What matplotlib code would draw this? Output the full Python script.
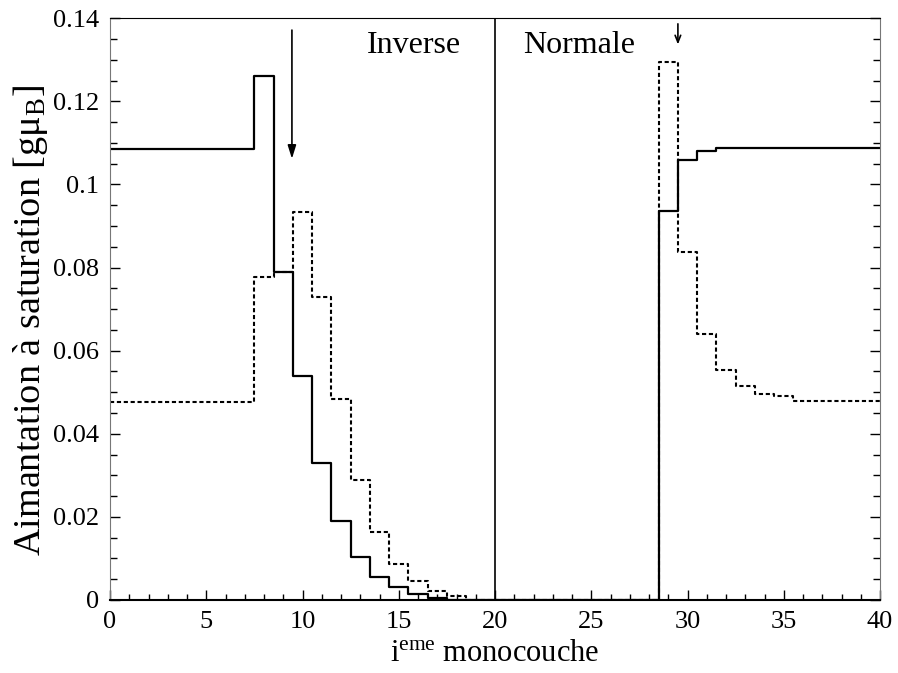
import matplotlib
matplotlib.use('Agg')
import matplotlib.pyplot as plt
from matplotlib.ticker import MultipleLocator, FormatStrFormatter

plt.rcParams['font.family'] = ['Liberation Serif', 'DejaVu Serif']
plt.rcParams['mathtext.fontset'] = 'custom'
plt.rcParams['mathtext.rm'] = 'Liberation Serif'
plt.rcParams['mathtext.it'] = 'Liberation Serif:italic'

# numero de la monocouche
couches = list(range(0, 41))

# aimantation (trait plein)
aim_plein = [0.1085, 0.1085, 0.1085, 0.1085, 0.1085, 0.1085, 0.1085, 0.1085,
             0.126, 0.079, 0.054, 0.033, 0.019, 0.0104, 0.0055, 0.0032,
             0.0015, 0.0004, 0.0, 0.0, 0.0, 0.0, 0.0, 0.0, 0.0, 0.0, 0.0, 0.0,
             0.0, 0.0935, 0.1058, 0.1080, 0.1087, 0.1087, 0.1087, 0.1087,
             0.1087, 0.1087, 0.1087, 0.1087, 0.1087]

# aimantation (pointilles)
aim_pointille = [0.0477, 0.0477, 0.0477, 0.0477, 0.0477, 0.0477, 0.0477, 0.0477,
                 0.0776, 0.0790, 0.0933, 0.0730, 0.0484, 0.0289, 0.0164, 0.0087,
                 0.0046, 0.0022, 0.0010, 0.0, 0.0, 0.0, 0.0, 0.0, 0.0, 0.0, 0.0,
                 0.0, 0.0, 0.1295, 0.0837, 0.0639, 0.0554, 0.0514, 0.0496,
                 0.0490, 0.0478, 0.0478, 0.0478, 0.0478, 0.0478]

interface = 20
fleche_inv = (9.45, 0.1378, 0.1055)
fleche_norm = (29.5, 0.1393, 0.1330)

fig = plt.figure(figsize=(8.98, 6.73), dpi=100)
ax = fig.add_axes([0.1225, 0.1085, 0.8575, 0.8645])

ax.step(couches, aim_plein, where='mid', color='black', lw=1.6)
ax.step(couches, aim_pointille, where='mid', color='black', lw=1.5,
        linestyle=(0, (2, 1.3)))
ax.axvline(interface, color='black', lw=1.2)

ax.annotate('', xy=(fleche_inv[0], fleche_inv[2]), xytext=(fleche_inv[0], fleche_inv[1]),
            arrowprops=dict(arrowstyle='-|>,head_length=0.8,head_width=0.25',
                            color='black', lw=1.2))
ax.annotate('', xy=(fleche_norm[0], fleche_norm[2]), xytext=(fleche_norm[0], fleche_norm[1]),
            arrowprops=dict(arrowstyle='->,head_length=0.5,head_width=0.2',
                            color='black', lw=1.2))

ax.text(13.35, 0.1316, 'Inverse', fontsize=23, ha='left', va='baseline')
ax.text(21.45, 0.1316, 'Normale', fontsize=23, ha='left', va='baseline')

ax.set_xlim(0, 40)
ax.set_ylim(0, 0.14)
ax.xaxis.set_major_locator(MultipleLocator(5))
ax.xaxis.set_minor_locator(MultipleLocator(1))
ax.yaxis.set_major_locator(MultipleLocator(0.02))
ax.yaxis.set_minor_locator(MultipleLocator(0.005))
ax.yaxis.set_major_formatter(FormatStrFormatter('%g'))

ax.tick_params(which='both', direction='in', top=False, right=True,
               labelsize=19, width=1)
ax.tick_params(which='major', length=7, pad=8)
ax.tick_params(which='minor', length=5)
ax.tick_params(axis='x', which='minor', length=4)

for s in ['left', 'right']:
    ax.spines[s].set_color('#777777')
ax.spines['bottom'].set_linewidth(1.5)

ax.set_xlabel('i$^{\\mathrm{eme}}$ monocouche', fontsize=22, labelpad=4)
ax.set_ylabel('Aimantation à saturation [gμ$_{\\mathrm{B}}$]', fontsize=27.5)
ax.yaxis.set_label_coords(-0.078, 0.48)

plt.savefig('out.png', dpi=100)
